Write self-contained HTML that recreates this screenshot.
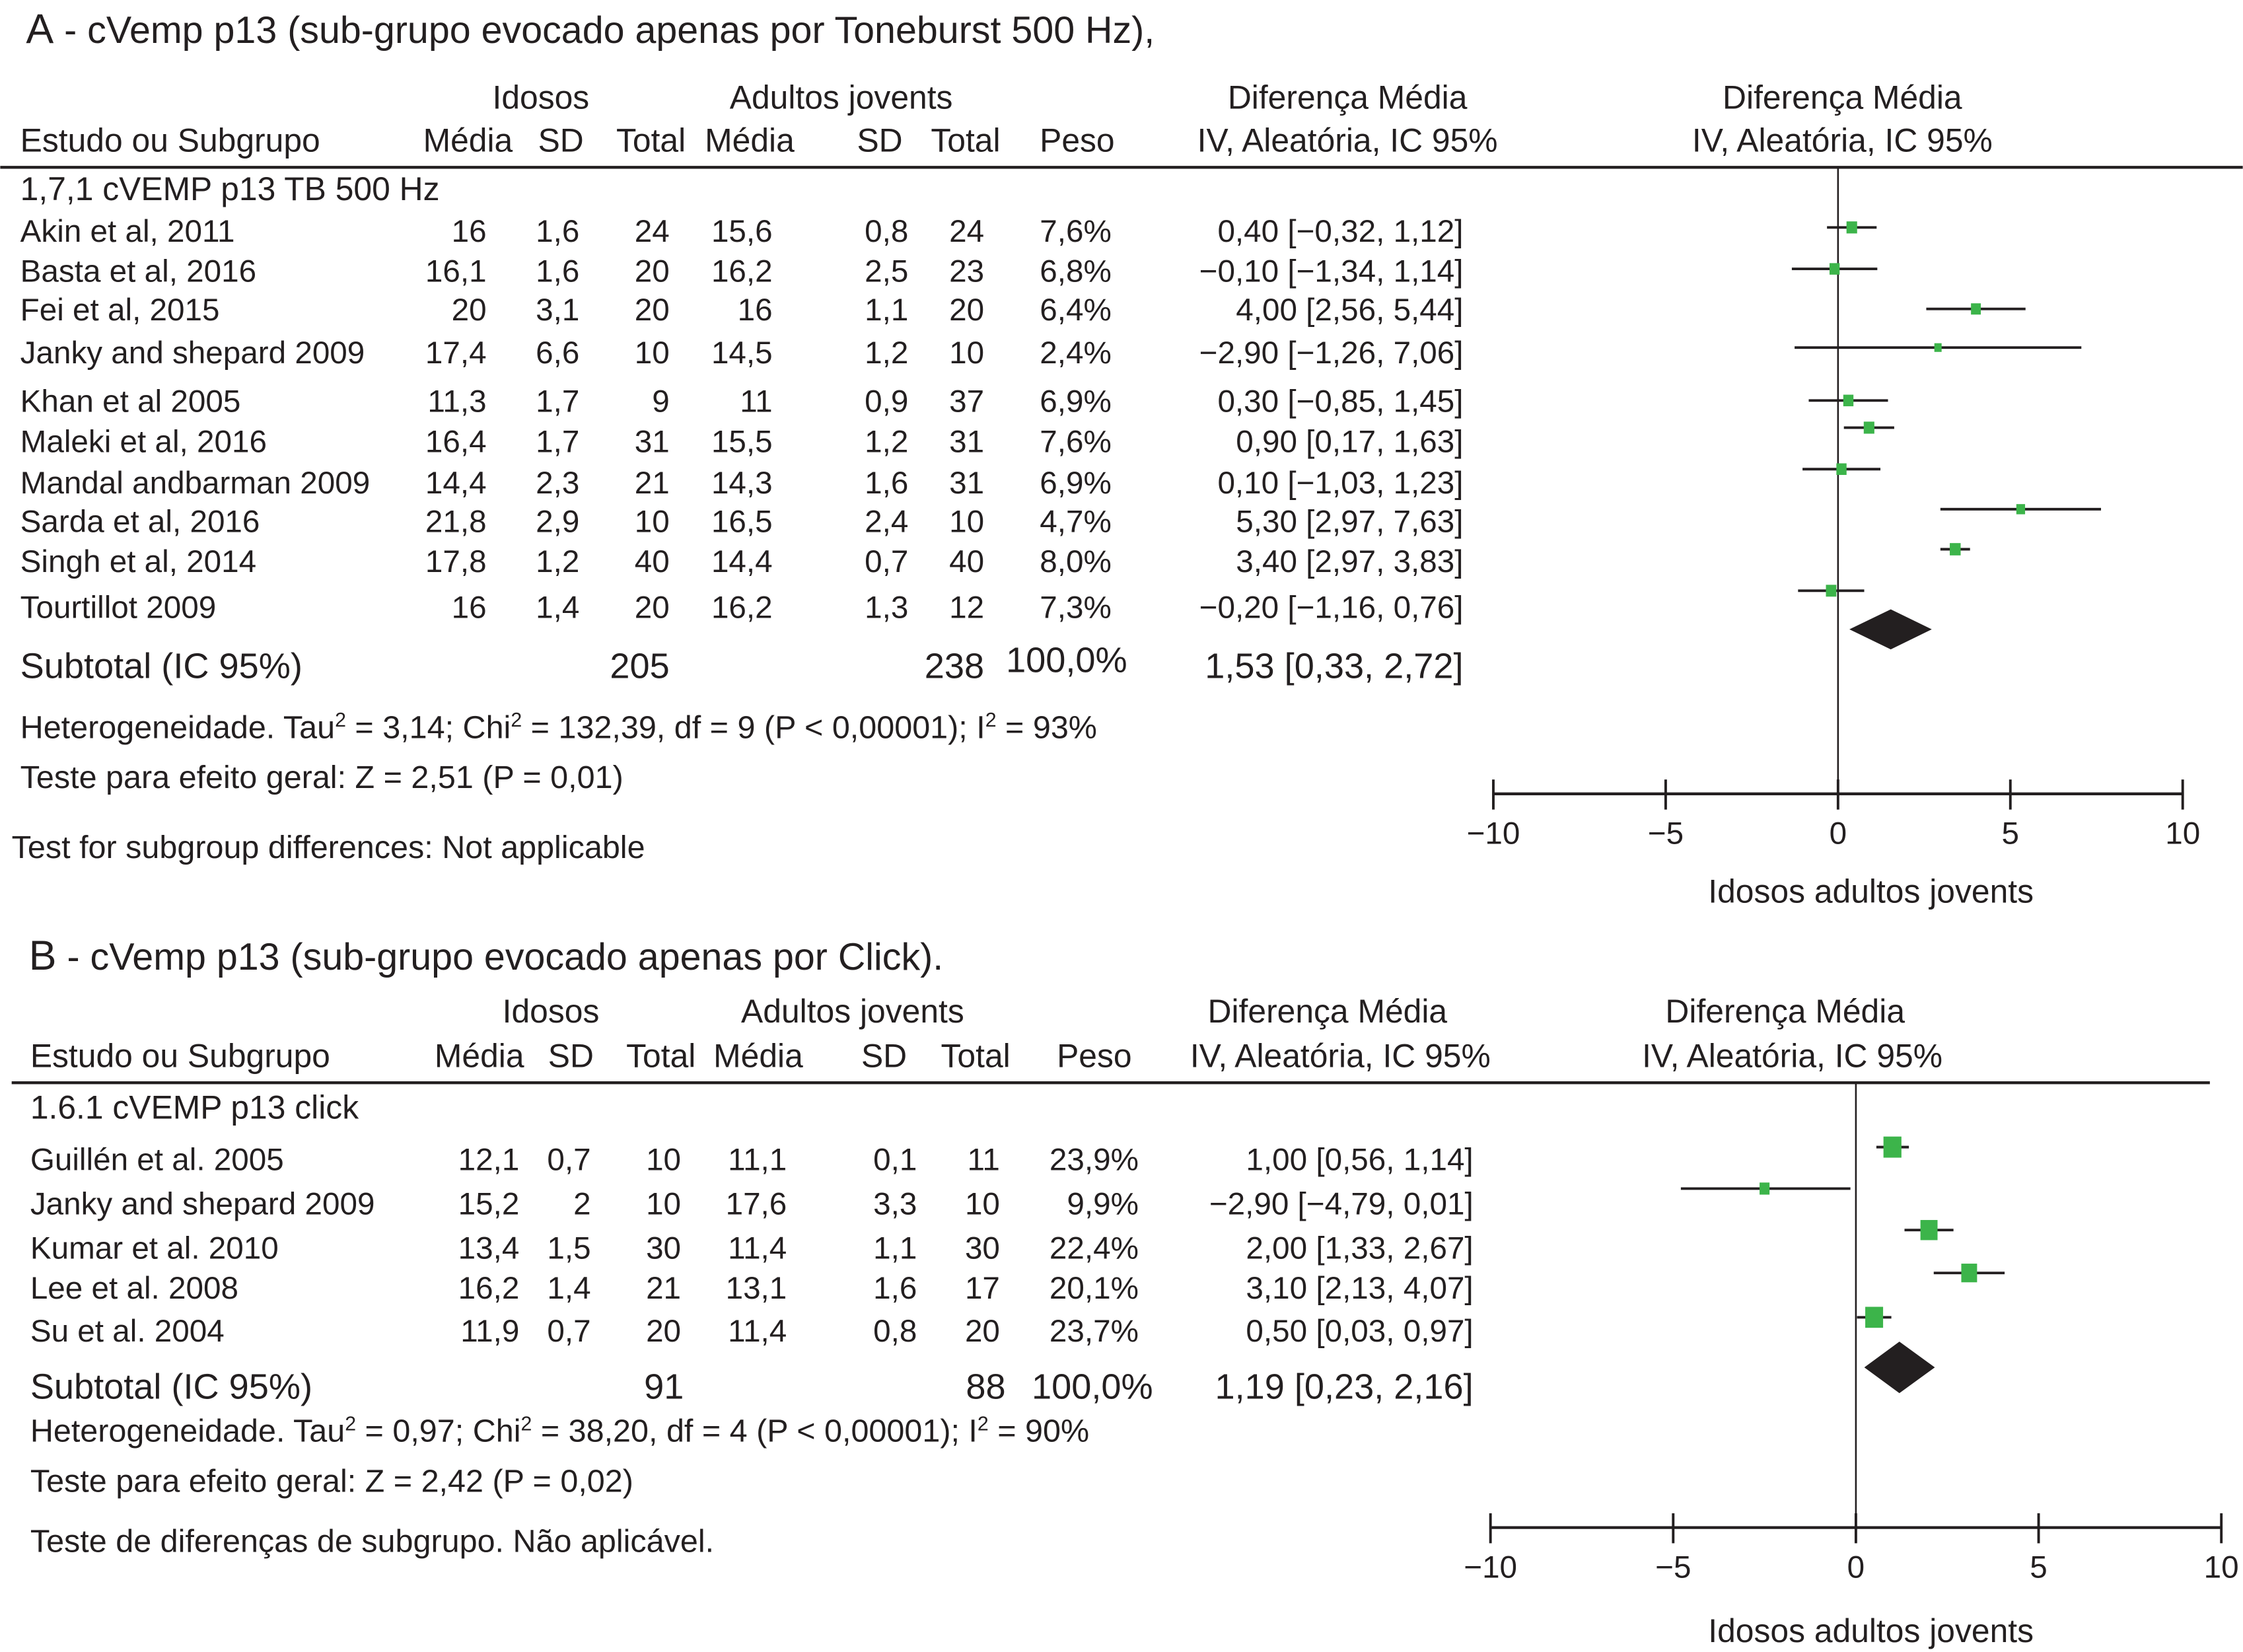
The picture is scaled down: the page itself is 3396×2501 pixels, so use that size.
<!DOCTYPE html>
<html><head><meta charset="utf-8">
<style>
html,body{margin:0;padding:0;background:#fff;}
svg{display:block;}
text{font-family:"Liberation Sans",sans-serif;fill:#231f20;}
</style></head>
<body>
<svg id="chart" width="3396" height="2501" viewBox="0 0 1568 1155" xmlns="http://www.w3.org/2000/svg">
<rect width="1568" height="1155" fill="#fff"/>
<g id="panelA">
<text x="18" y="30" font-size="26.5"><tspan font-size="29">A</tspan> -  cVemp p13 (sub-grupo evocado apenas por Toneburst 500 Hz),</text>
<g font-size="23" text-anchor="middle">
<text x="378" y="76">Idosos</text><text x="588" y="76">Adultos jovents</text>
<text x="942" y="76">Diferença Média</text><text x="1288" y="76">Diferença Média</text>
<text x="14" y="106" text-anchor="start">Estudo ou Subgrupo</text>
<text x="327" y="106">Média</text><text x="392" y="106">SD</text><text x="455" y="106">Total</text>
<text x="524" y="106">Média</text><text x="615" y="106">SD</text><text x="675" y="106">Total</text>
<text x="753" y="106">Peso</text><text x="942" y="106">IV, Aleatória, IC 95%</text><text x="1288" y="106">IV, Aleatória, IC 95%</text>
</g>
<line x1="0" y1="117" x2="1568" y2="117" stroke="#231f20" stroke-width="2"/>
<text x="14" y="140" font-size="23">1,7,1 cVEMP p13 TB 500 Hz</text>
<text x="14" y="474" font-size="25">Subtotal (IC 95%)</text>
<g font-size="25" text-anchor="end">
<text x="468" y="474">205</text><text x="688" y="474">238</text><text x="788" y="470">100,0%</text><text x="1023" y="474">1,53 [0,33, 2,72]</text>
</g>
<text x="14" y="516" font-size="22.4">Heterogeneidade. Tau<tspan dy="-8" font-size="14">2</tspan><tspan dy="8"> = 3,14; Chi</tspan><tspan dy="-8" font-size="14">2</tspan><tspan dy="8"> = 132,39, df = 9 (P &lt; 0,00001); I</tspan><tspan dy="-8" font-size="14">2</tspan><tspan dy="8"> = 93%</tspan></text>
<text x="14" y="551" font-size="22.4">Teste para efeito geral: Z = 2,51 (P = 0,01)</text>
<text x="8" y="600" font-size="22.4">Test for subgroup differences: Not applicable</text>
<text x="1308" y="631" font-size="23" text-anchor="middle">Idosos adultos jovents</text>
</g>
<g id="panelB">
<text x="20" y="678" font-size="26.5"><tspan font-size="29">B</tspan> - cVemp p13 (sub-grupo evocado apenas por Click).</text>
<g font-size="23" text-anchor="middle">
<text x="385" y="715">Idosos</text><text x="596" y="715">Adultos jovents</text>
<text x="928" y="715">Diferença Média</text><text x="1248" y="715">Diferença Média</text>
<text x="21" y="746" text-anchor="start">Estudo ou Subgrupo</text>
<text x="335" y="746">Média</text><text x="399" y="746">SD</text><text x="462" y="746">Total</text>
<text x="530" y="746">Média</text><text x="618" y="746">SD</text><text x="682" y="746">Total</text>
<text x="765" y="746">Peso</text><text x="937" y="746">IV, Aleatória, IC 95%</text><text x="1253" y="746">IV, Aleatória, IC 95%</text>
</g>
<line x1="8" y1="757" x2="1545" y2="757" stroke="#231f20" stroke-width="2"/>
<text x="21" y="782" font-size="23">1.6.1 cVEMP p13 click</text>
<text x="21" y="978" font-size="25">Subtotal (IC 95%)</text>
<g font-size="25" text-anchor="end">
<text x="478" y="978">91</text><text x="703" y="978">88</text><text x="806" y="978">100,0%</text><text x="1030" y="978">1,19 [0,23, 2,16]</text>
</g>
<text x="21" y="1008" font-size="22.4">Heterogeneidade. Tau<tspan dy="-8" font-size="14">2</tspan><tspan dy="8"> = 0,97; Chi</tspan><tspan dy="-8" font-size="14">2</tspan><tspan dy="8"> = 38,20, df = 4 (P &lt; 0,00001); I</tspan><tspan dy="-8" font-size="14">2</tspan><tspan dy="8"> = 90%</tspan></text>
<text x="21" y="1043" font-size="22.4">Teste para efeito geral: Z = 2,42 (P = 0,02)</text>
<text x="21" y="1085" font-size="22.4">Teste de diferenças de subgrupo. Não aplicável.</text>
<text x="1308" y="1148" font-size="23" text-anchor="middle">Idosos adultos jovents</text>
</g>
</svg>
<script>
// Panel A data
const studiesA = ["Akin et al, 2011","Basta et al, 2016","Fei et al, 2015","Janky and shepard 2009","Khan et al 2005","Maleki et al, 2016","Mandal andbarman 2009","Sarda et al, 2016","Singh et al, 2014","Tourtillot 2009"];
const meanOldA = ["16","16,1","20","17,4","11,3","16,4","14,4","21,8","17,8","16"];
const sdOldA = ["1,6","1,6","3,1","6,6","1,7","1,7","2,3","2,9","1,2","1,4"];
const totOldA = ["24","20","20","10","9","31","21","10","40","20"];
const meanYoungA = ["15,6","16,2","16","14,5","11","15,5","14,3","16,5","14,4","16,2"];
const sdYoungA = ["0,8","2,5","1,1","1,2","0,9","1,2","1,6","2,4","0,7","1,3"];
const totYoungA = ["24","23","20","10","37","31","31","10","40","12"];
const weightA = [7.6,6.8,6.4,2.4,6.9,7.6,6.9,4.7,8.0,7.3];
const mdA = [0.40,-0.10,4.00,2.90,0.30,0.90,0.10,5.30,3.40,-0.20];
const loA = [-0.32,-1.34,2.56,-1.26,-0.85,0.17,-1.03,2.97,2.97,-1.16];
const hiA = [1.12,1.14,5.44,7.06,1.45,1.63,1.23,7.63,3.83,0.76];
const ciLabelA = ["0,40 [−0,32, 1,12]","−0,10 [−1,34, 1,14]","4,00 [2,56, 5,44]","−2,90 [−1,26, 7,06]","0,30 [−0,85, 1,45]","0,90 [0,17, 1,63]","0,10 [−1,03, 1,23]","5,30 [2,97, 7,63]","3,40 [2,97, 3,83]","−0,20 [−1,16, 0,76]"];
const summaryA = [1.53,0.33,2.72];
const ticksA = [-10,-5,0,5,10];
const tickLabelsA = ["−10","−5","0","5","10"];
// Panel B data
const studiesB = ["Guillén et al. 2005","Janky and shepard 2009","Kumar et al. 2010","Lee et al. 2008","Su et al. 2004"];
const meanOldB = ["12,1","15,2","13,4","16,2","11,9"];
const sdOldB = ["0,7","2","1,5","1,4","0,7"];
const totOldB = ["10","10","30","21","20"];
const meanYoungB = ["11,1","17,6","11,4","13,1","11,4"];
const sdYoungB = ["0,1","3,3","1,1","1,6","0,8"];
const totYoungB = ["11","10","30","17","20"];
const weightB = [23.9,9.9,22.4,20.1,23.7];
const mdB = [1.00,-2.50,2.00,3.10,0.50];
const loB = [0.56,-4.79,1.33,2.13,0.03];
const hiB = [1.45,-0.15,2.67,4.07,0.97];
const ciLabelB = ["1,00 [0,56, 1,14]","−2,90 [−4,79, 0,01]","2,00 [1,33, 2,67]","3,10 [2,13, 4,07]","0,50 [0,03, 0,97]"];
const summaryB = [1.19,0.23,2.16];
const ticksB = [-10,-5,0,5,10];
const tickLabelsB = ["−10","−5","0","5","10"];

const NS="http://www.w3.org/2000/svg";
function mk(parent,tag,attrs,txt){const e=document.createElementNS(NS,tag);for(const k in attrs)e.setAttribute(k,attrs[k]);if(txt!==undefined)e.textContent=txt;parent.appendChild(e);return e;}
const fmtW=w=>w.toFixed(1).replace('.',',')+'%';

function panel(gid,cfg){
  const g=document.getElementById(gid);
  const xs=v=>cfg.x0+(v-(-10))*(cfg.x1-cfg.x0)/20;
  const n=cfg.studies.length;
  const z=mk(g,'line',{x1:xs(0),x2:xs(0),y1:cfg.ruleY,y2:cfg.axisY,stroke:'#231f20','stroke-width':1.2});
  
  
  for(let i=0;i<n;i++){
    const ty=cfg.textY[i], my=cfg.markY[i];
    const cols=[[cfg.studies[i],cfg.nameX,'start'],[cfg.mo[i],cfg.cols[0],'end'],[cfg.so[i],cfg.cols[1],'end'],[cfg.to[i],cfg.cols[2],'end'],[cfg.my[i],cfg.cols[3],'end'],[cfg.sy[i],cfg.cols[4],'end'],[cfg.ty[i],cfg.cols[5],'end'],[fmtW(cfg.w[i]),cfg.cols[6],'end'],[cfg.ci[i],cfg.cols[7],'end']];
    const names=['study-name','old-mean','old-sd','old-total','young-mean','young-sd','young-total','weight','mean-difference-ci'];
    cols.forEach((c,k)=>{
      const t=mk(g,'text',{x:c[1],y:ty,'font-size':22,'text-anchor':c[2]},c[0]);
      
      
    });
    const l=mk(g,'line',{x1:xs(cfg.lo[i]),x2:xs(cfg.hi[i]),y1:my,y2:my,stroke:'#231f20','stroke-width':1.8});
    
    
    const s=cfg.sq(cfg.w[i]);
    const r=mk(g,'rect',{x:xs(cfg.md[i])-s.w/2,y:my-s.h/2,width:s.w,height:s.h,fill:'#3cb44a'});
    
    
  }
  const [m,lo,hi]=cfg.sum, dy=cfg.diamondY, dh=cfg.diamondH;
  const d=mk(g,'polygon',{points:`${xs(lo)},${dy} ${xs(m)},${dy-dh} ${xs(hi)},${dy} ${xs(m)},${dy+dh}`,fill:'#231f20'});
  
  
  const ax=mk(g,'line',{x1:xs(-10),x2:xs(10),y1:cfg.axisY,y2:cfg.axisY,stroke:'#231f20','stroke-width':2});
  
  
  cfg.ticks.forEach((v,k)=>{
    const t=mk(g,'line',{x1:xs(v),x2:xs(v),y1:cfg.axisY-10,y2:cfg.axisY+11,stroke:'#231f20','stroke-width':1.8});
    
    
    const lb=mk(g,'text',{x:xs(v),y:cfg.axisY+35,'font-size':22,'text-anchor':'middle'},cfg.tickLabels[k]);
    
    
  });
}
panel('panelA',{studies:studiesA,mo:meanOldA,so:sdOldA,to:totOldA,my:meanYoungA,sy:sdYoungA,ty:totYoungA,w:weightA,md:mdA,lo:loA,hi:hiA,ci:ciLabelA,sum:summaryA,ticks:ticksA,tickLabels:tickLabelsA,
  x0:1044,x1:1526,ruleY:117,axisY:555,nameX:14,cols:[340,405,468,540,635,688,777,1023],
  textY:[169,197,224,254,288,316,345,372,400,432],markY:[159,188,216,243,280,299,328,356,384,413],
  sq:w=>({w:4+w*0.45,h:5+w*0.45}),diamondY:440,diamondH:14});
panel('panelB',{studies:studiesB,mo:meanOldB,so:sdOldB,to:totOldB,my:meanYoungB,sy:sdYoungB,ty:totYoungB,w:weightB,md:mdB,lo:loB,hi:hiB,ci:ciLabelB,sum:summaryB,ticks:ticksB,tickLabels:tickLabelsB,
  x0:1042,x1:1553,ruleY:757,axisY:1068,nameX:21,cols:[363,413,476,550,641,699,796,1030],
  textY:[818,849,880,908,938],markY:[802,831,860,890,921],
  sq:w=>({w:3+w*0.4,h:4+w*0.45}),diamondY:956,diamondH:18});
</script>
</body></html>
